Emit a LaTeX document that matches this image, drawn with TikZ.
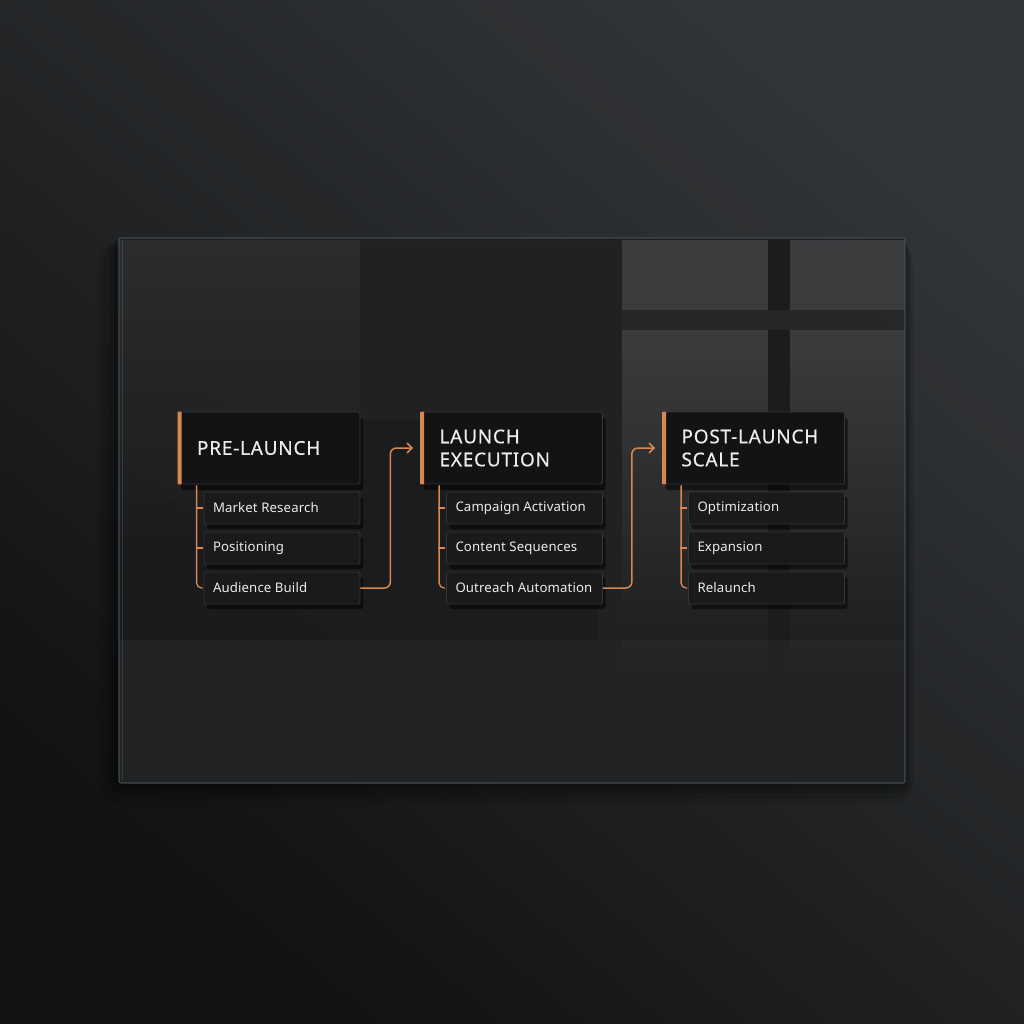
\documentclass[tikz,border=0pt]{standalone}
\usepackage{fontspec}
\setmainfont{Noto Sans}
\newfontfamily\hdrfont{Noto Sans}[FakeBold=0.45, LetterSpace=4]
\newfontfamily\subfont{Noto Sans}[LetterSpace=1]
\newcommand\sbx[1]{\makebox[138pt][l]{#1}}
\usetikzlibrary{arrows.meta,shadows,calc,fadings}
\definecolor{bgdark}{HTML}{101112}
\definecolor{bgmid}{HTML}{1C1E20}
\definecolor{bglight}{HTML}{35383B}
\definecolor{glass}{HTML}{1B1D1F}
\definecolor{glassedge}{HTML}{464A4D}
\definecolor{hdrfill}{HTML}{131313}
\definecolor{subfill}{HTML}{1A1A1B}
\definecolor{boxedge}{HTML}{333538}
\definecolor{accent}{HTML}{D8874E}
\definecolor{txt}{HTML}{ECECEC}
\tikzset{
  hdr/.style={draw=boxedge, line width=0.8pt, fill=hdrfill, rounded corners=2pt,
    minimum width=182pt, minimum height=72pt, text width=144pt, inner xsep=19pt,
    align=left, text=txt, font=\hdrfont\fontsize{19}{23}\selectfont,
    drop shadow={shadow xshift=3pt, shadow yshift=-6pt, opacity=0.55, fill=black}},
  subbox/.style={draw=boxedge, line width=0.7pt, fill=subfill, rounded corners=2pt,
    minimum width=156pt, minimum height=32pt, inner xsep=9pt,
    text=txt, font=\subfont\fontsize{13.2}{15}\selectfont,
    drop shadow={shadow xshift=3pt, shadow yshift=-5pt, opacity=0.5, fill=black}},
  tree/.style={draw=accent, line width=1.3pt, rounded corners=5pt},
  flow/.style={draw=accent, line width=1.5pt, rounded corners=6pt,
    -{Straight Barb[length=5pt,width=10pt,line width=1.5pt]}, shorten >=7pt},
  bar/.style={fill=accent},
  pane/.style={fill=white, path fading=south}
}
\begin{document}
\begin{tikzpicture}[x=1pt,y=-1pt]
\useasboundingbox (0,0) rectangle (1024,1024);
% background
\fill[bgmid] (0,0) rectangle (1024,1024);
\shade[shading=axis, top color=bglight, bottom color=bgdark, shading angle=-40, opacity=0.9] (0,0) rectangle (1024,1024);
% soft panel shadow
\foreach \d/\o in {22/0.08,16/0.1,10/0.12,5/0.15}{
  \fill[black, opacity=\o, rounded corners=\d pt] (119-\d,238+\d*0.3) rectangle (905+\d*0.4,783+\d);
}
% glass panel
\fill[glass, opacity=0.92] (119,238) rectangle (905,783);
% reflections
\begin{scope}[opacity=0.07]
  \fill[pane] (119,240) rectangle (360,560);
\end{scope}
\fill[white, opacity=0.025] (360,240) rectangle (598,420);
\fill[white, opacity=0.14] (622,240) rectangle (768,310);
\fill[white, opacity=0.14] (790,240) rectangle (905,310);
\fill[white, opacity=0.05] (622,310) rectangle (905,330);
\begin{scope}[opacity=0.14]
  \fill[pane] (622,330) rectangle (768,680);
  \fill[pane] (790,330) rectangle (905,680);
\end{scope}
\fill[white, opacity=0.025] (598,240) rectangle (622,640);
\fill[white, opacity=0.03] (119,640) rectangle (905,783);
\draw[glassedge, line width=1.2pt, rounded corners=2pt] (119,238) rectangle (905,783);
\draw[white, opacity=0.12, line width=0.6pt] (122,241) -- (122,780);

% column 1
\node[hdr] (h1) at (269,448) {\mbox{PRE-LAUNCH}};
\node[subbox] (s11) at (282,508) {\sbx{Market Research}};
\node[subbox] (s12) at (282,548) {\sbx{Positioning}};
\node[subbox] (s13) at (282,588) {\sbx{Audience Build}};
% column 2
\node[hdr] (h2) at (511.5,448) {LAUNCH\\EXECUTION};
\node[subbox] (s21) at (524.5,508) {\sbx{Campaign Activation}};
\node[subbox] (s22) at (524.5,548) {\sbx{Content Sequences}};
\node[subbox] (s23) at (524.5,588) {\sbx{Outreach Automation}};
% column 3
\node[hdr] (h3) at (753.5,448) {\mbox{POST-LAUNCH}\\SCALE};
\node[subbox] (s31) at (766.5,508) {\sbx{Optimization}};
\node[subbox] (s32) at (766.5,548) {\sbx{Expansion}};
\node[subbox] (s33) at (766.5,588) {\sbx{Relaunch}};

% accent bars
\foreach \h in {h1,h2,h3}{
  \fill[bar, rounded corners=1pt] (\h.north west) rectangle ([xshift=4pt]\h.south west);
}
% trees
\foreach \h/\a/\b/\c in {h1/s11/s12/s13, h2/s21/s22/s23, h3/s31/s32/s33}{
  \draw[tree] ([xshift=19pt,yshift=-1pt]\h.south west) |- ([xshift=-1pt]\c.west);
  \draw[tree] ([xshift=-8pt]\a.west) -- ([xshift=-1pt]\a.west);
  \draw[tree] ([xshift=-8pt]\b.west) -- ([xshift=-1pt]\b.west);
}
% flow arrows
\draw[flow] (s13.east) -- ++(30,0) |- (h2.west);
\draw[flow] (s23.east) -- ++(29,0) |- (h3.west);
\end{tikzpicture}
\end{document}
